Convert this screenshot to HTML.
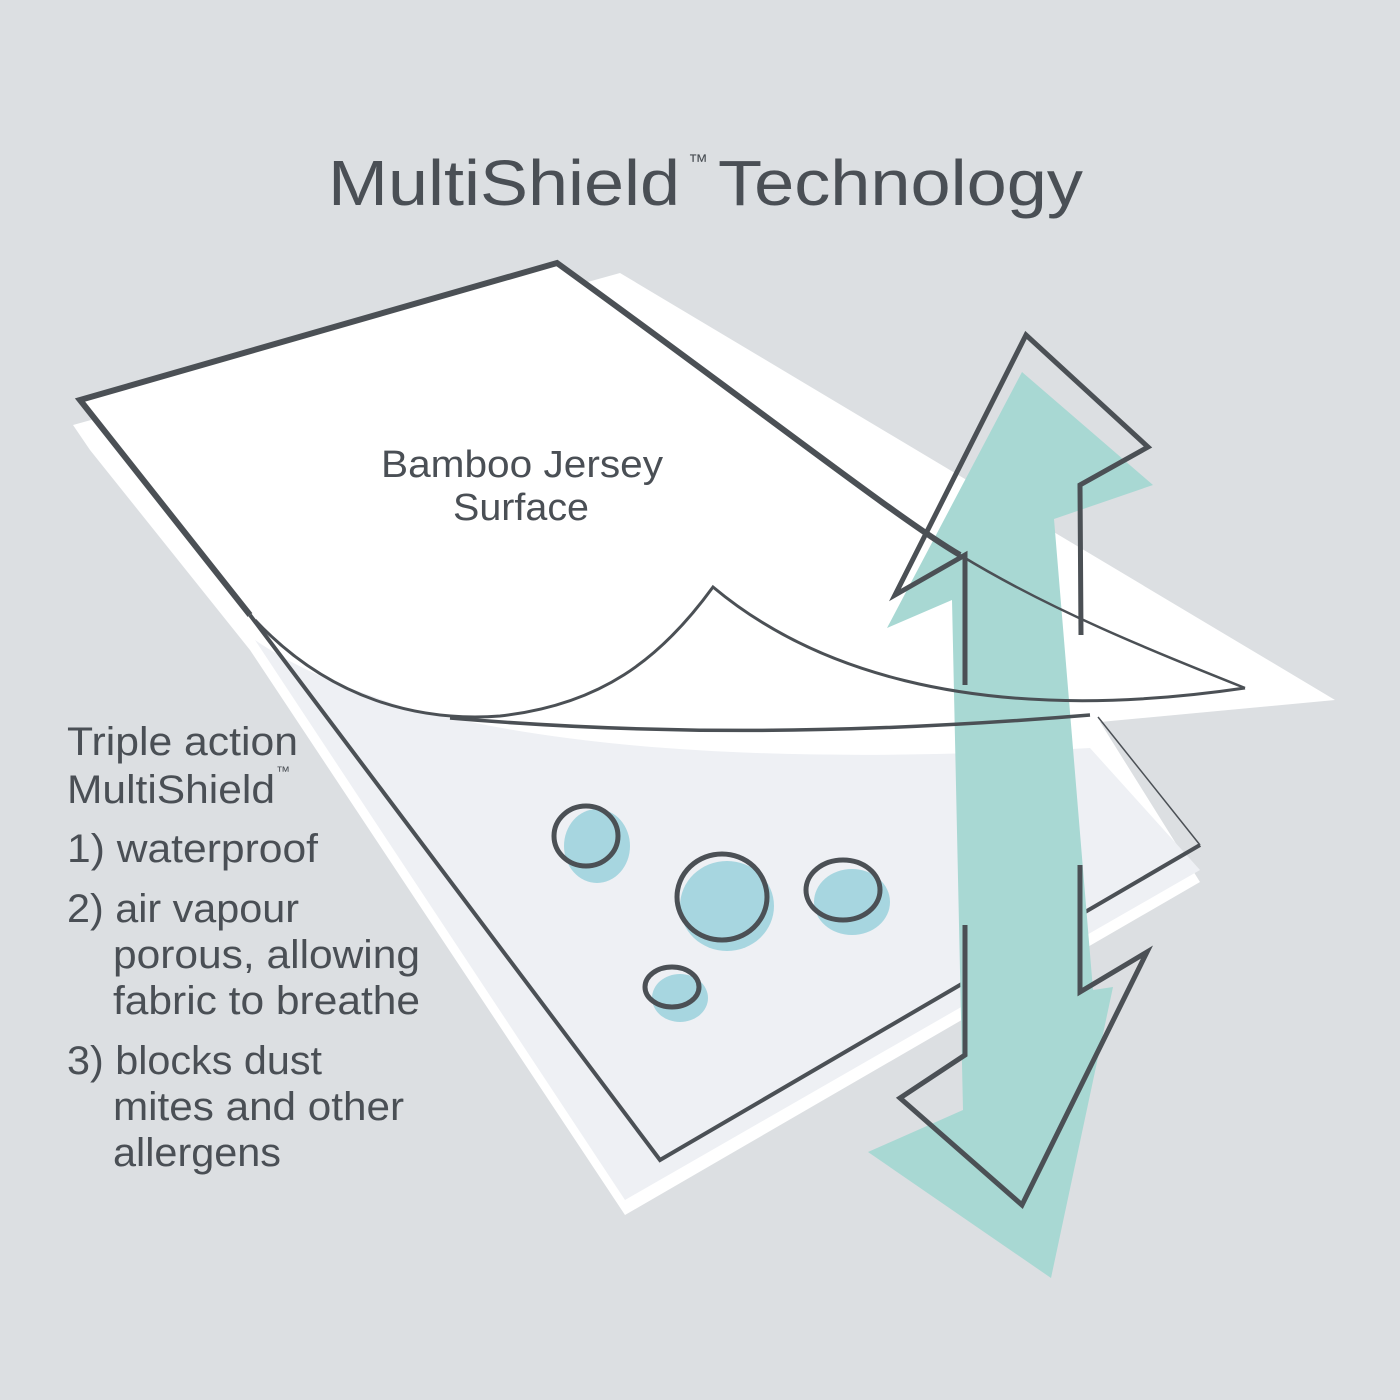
<!DOCTYPE html>
<html><head><meta charset="utf-8"><style>html,body{margin:0;padding:0;background:#dcdfe2}svg{display:block}</style></head>
<body>
<svg width="1400" height="1400" viewBox="0 0 1400 1400" xmlns="http://www.w3.org/2000/svg">
<rect width="1400" height="1400" fill="#dcdfe2"/>
<!-- back white sheet -->
<polygon points="73,425 620,273 1335,700 1100,722 1200,882 625,1215 250,650 90,450" fill="#ffffff"/>
<!-- lower light sheet -->
<path d="M255,640 C400,740 700,770 1090,748 L1200,870 L625,1200 Z" fill="#eef0f4"/>
<!-- top sheet white -->
<path d="M80,400 L557,263 C760,410 900,520 960,555 C1050,610 1150,650 1245,688 C1100,720 700,735 450,718 C350,700 280,650 255,620 Z" fill="#ffffff"/>
<!-- lower sheet outline -->
<path d="M250,615 L660,1160 L1200,845" fill="none" stroke="#4b5055" stroke-width="4" stroke-linejoin="miter"/>
<path d="M1098,717 L1200,845" fill="none" stroke="#4b5055" stroke-width="1.5"/>
<!-- teal arrow -->
<polygon points="1022,372 1153,485 1054,519 1093,990 1113,987 1051,1278 868,1152 963,1110 952,600 887,628" fill="#a8d8d3"/>
<!-- top sheet outline -->
<path d="M255,620 C330,700 420,722 500,716 C600,705 660,660 713,587 C800,660 960,730 1245,688" fill="none" stroke="#4b5055" stroke-width="3"/>
<path d="M960,555 C1050,610 1150,650 1245,688" fill="none" stroke="#4b5055" stroke-width="2.5"/>
<path d="M960,555 C900,520 760,410 557,263 L80,400 L250,615" fill="none" stroke="#4b5055" stroke-width="6" stroke-linejoin="miter"/>
<path d="M450,718 C650,735 850,735 1090,715" fill="none" stroke="#4b5055" stroke-width="3.5"/>
<!-- arrow outline -->
<path d="M965,685 L965,555 L895,595 L1026,335 L1148,447 L1080,485 L1081,635" fill="none" stroke="#4b5055" stroke-width="5" stroke-linejoin="miter"/>
<path d="M965,925 L965,1055 L900,1098 L1022,1205 L1147,952 L1080,992 L1080,865" fill="none" stroke="#4b5055" stroke-width="5" stroke-linejoin="miter"/>
<!-- bubbles -->
<g>
<ellipse cx="597" cy="846" rx="33" ry="37" fill="#a7d6e0"/>
<ellipse cx="586" cy="836" rx="32" ry="30" fill="none" stroke="#4b5055" stroke-width="5"/>
<ellipse cx="727" cy="906" rx="47" ry="45" fill="#a7d6e0"/>
<ellipse cx="722" cy="897" rx="45" ry="43" fill="none" stroke="#4b5055" stroke-width="5"/>
<ellipse cx="852" cy="902" rx="38" ry="33" fill="#a7d6e0"/>
<ellipse cx="843" cy="890" rx="37" ry="30" fill="none" stroke="#4b5055" stroke-width="5"/>
<ellipse cx="680" cy="998" rx="28" ry="24" fill="#a7d6e0"/>
<ellipse cx="672" cy="987" rx="27" ry="20" fill="none" stroke="#4b5055" stroke-width="5"/>
</g>
<!-- text -->
<g font-family="'Liberation Sans', sans-serif" fill="#4a4f55">
<text x="328" y="205" font-size="64" textLength="352" lengthAdjust="spacingAndGlyphs">MultiShield</text>
<text x="688" y="168" font-size="20">™</text>
<text x="718" y="205" font-size="64" textLength="365" lengthAdjust="spacingAndGlyphs">Technology</text>
<text x="381" y="477" font-size="38" textLength="282" lengthAdjust="spacingAndGlyphs">Bamboo Jersey</text>
<text x="453" y="520" font-size="38" textLength="136" lengthAdjust="spacingAndGlyphs">Surface</text>
<g font-size="40">
<text x="67" y="755" textLength="231" lengthAdjust="spacingAndGlyphs">Triple action</text>
<text x="67" y="803" textLength="208" lengthAdjust="spacingAndGlyphs">MultiShield</text><text x="276" y="776" font-size="14">™</text>
<text x="67" y="862" textLength="251" lengthAdjust="spacingAndGlyphs">1) waterproof</text>
<text x="67" y="922" textLength="232" lengthAdjust="spacingAndGlyphs">2) air vapour</text>
<text x="113" y="968" textLength="307" lengthAdjust="spacingAndGlyphs">porous, allowing</text>
<text x="113" y="1014" textLength="307" lengthAdjust="spacingAndGlyphs">fabric to breathe</text>
<text x="67" y="1074" textLength="255" lengthAdjust="spacingAndGlyphs">3) blocks dust</text>
<text x="113" y="1120" textLength="291" lengthAdjust="spacingAndGlyphs">mites and other</text>
<text x="113" y="1166" textLength="168" lengthAdjust="spacingAndGlyphs">allergens</text>
</g>
</g>
</svg>
</body></html>
